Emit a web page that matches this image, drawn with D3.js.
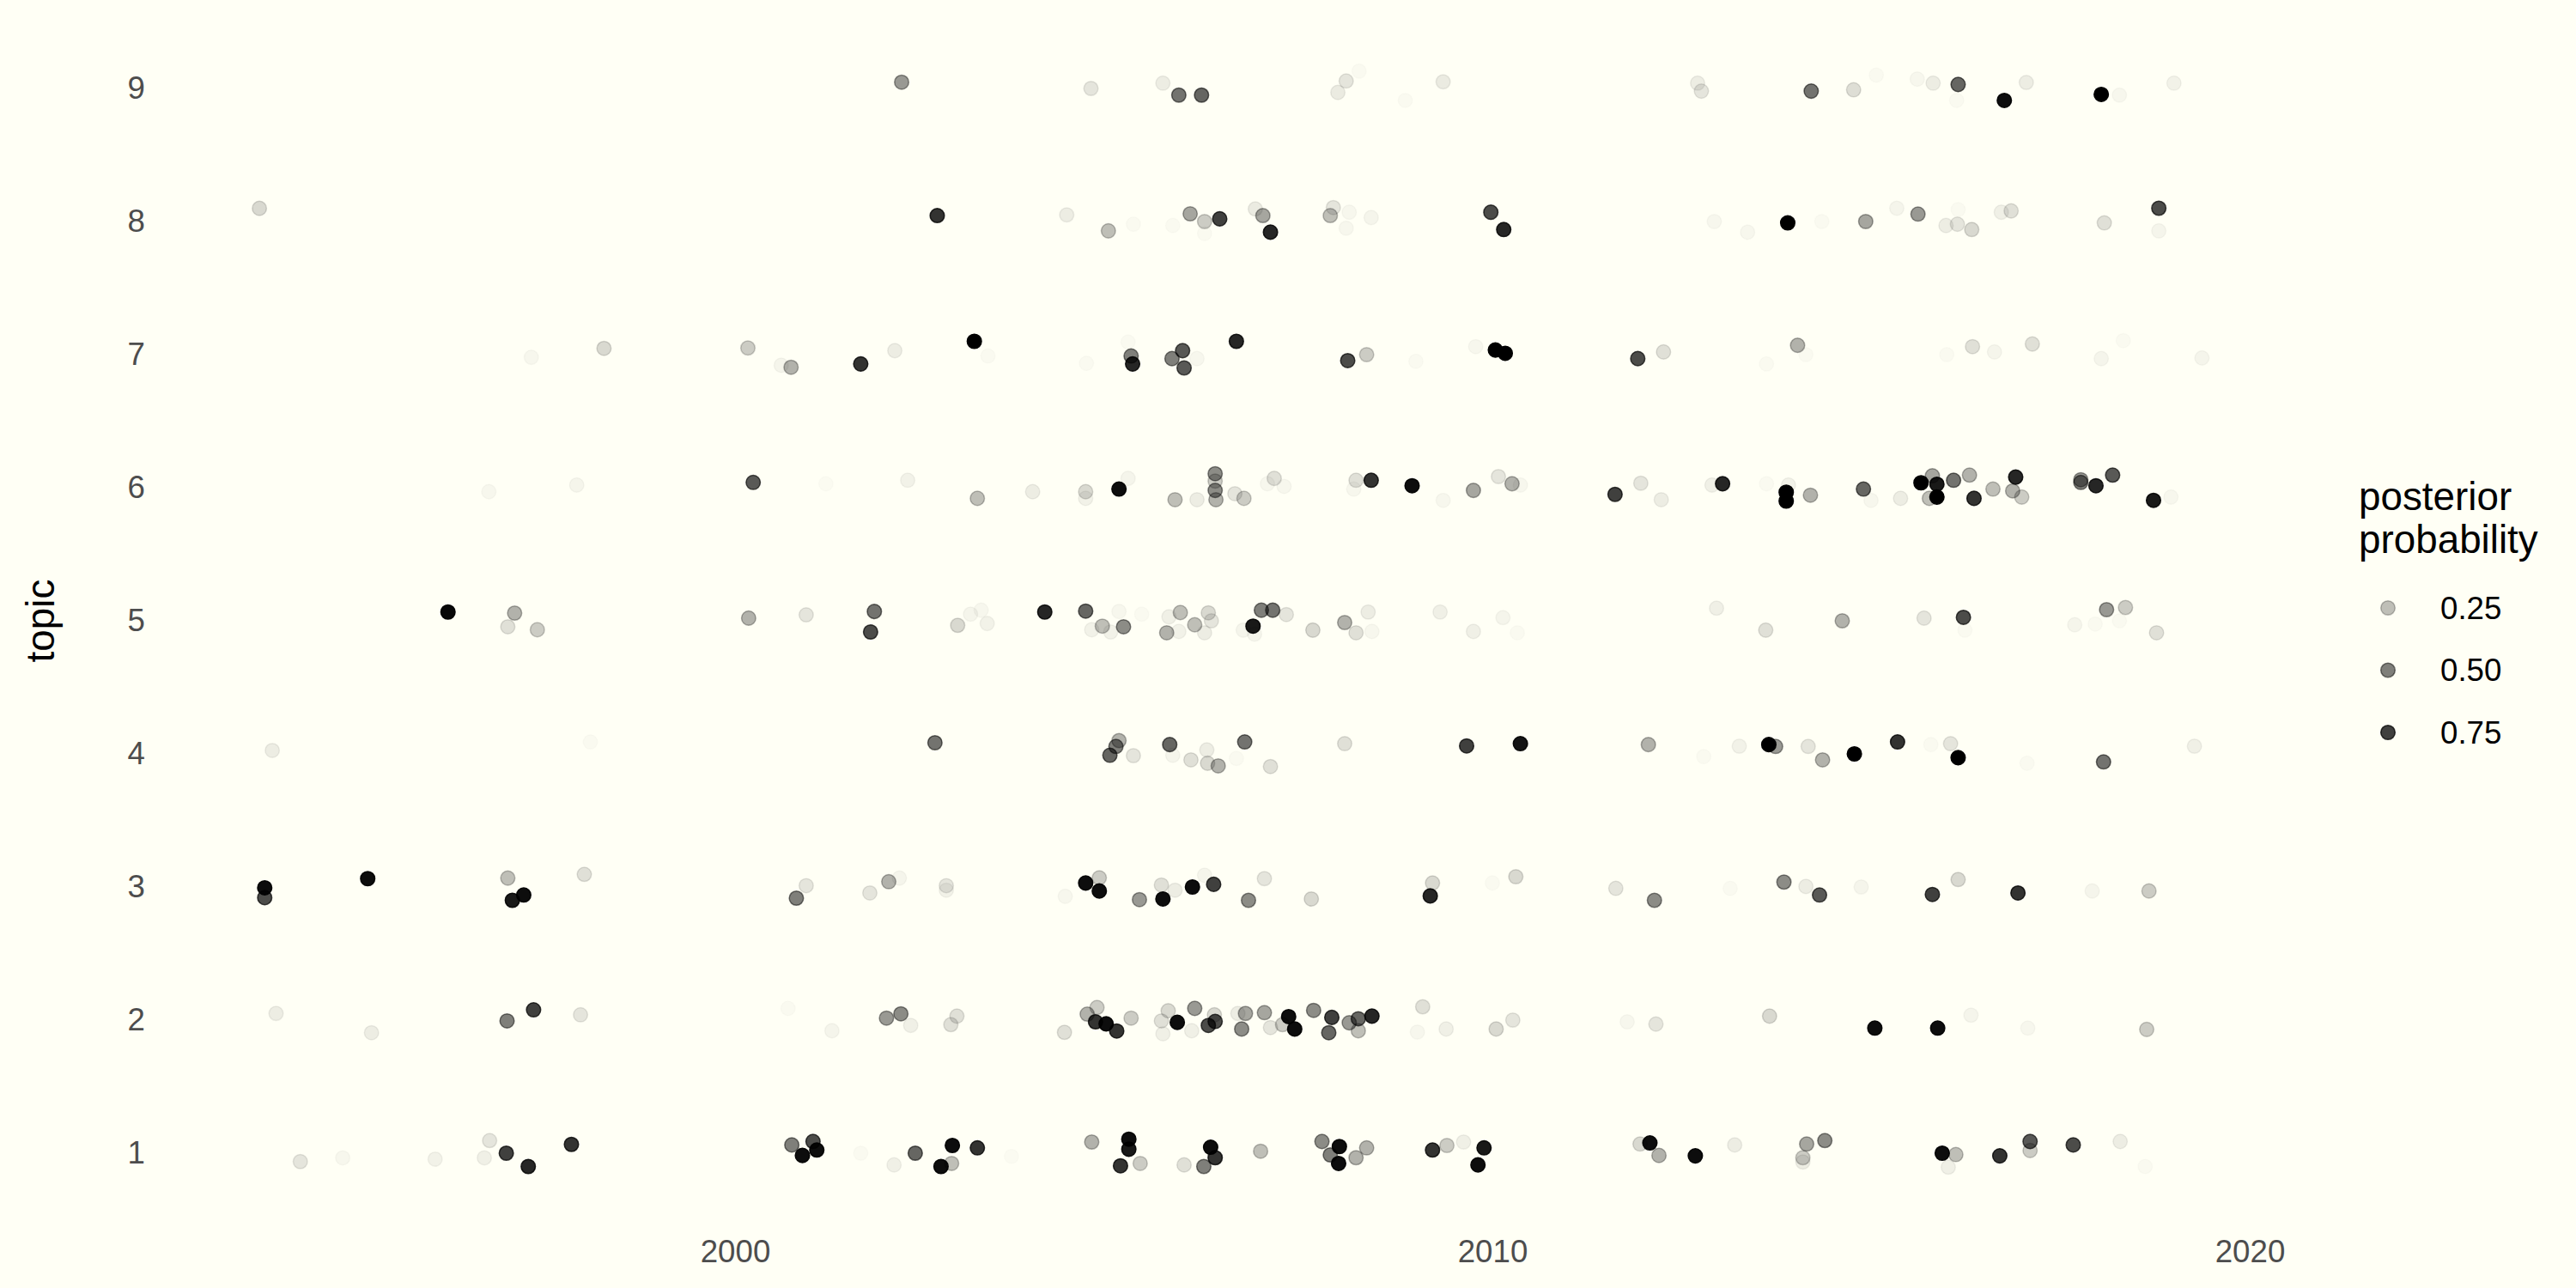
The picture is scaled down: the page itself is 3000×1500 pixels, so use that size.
<!DOCTYPE html>
<html>
<head>
<meta charset="utf-8">
<script src="https://cdn.jsdelivr.net/npm/d3@7"></script>
<style>
    body { margin: 0; background: #fffff5; }
    text { font-family: "Liberation Sans", Arial, sans-serif; }
</style>
</head>
<body>
<svg id="plot-svg"></svg>
<script>
// каждая точка: [год, тема (с разбросом), апостериорная вероятность]
const topic9 = [
    [2002.20, 9.047, 0.4], [2004.70, 9.00, 0.1], [2005.65, 9.04, 0.07], [2005.86, 8.95, 0.55],
    [2006.16, 8.95, 0.6], [2008.07, 9.056, 0.1], [2007.96, 8.97, 0.08], [2008.24, 9.13, 0.02],
    [2008.85, 8.91, 0.02], [2009.35, 9.05, 0.08], [2012.71, 9.04, 0.07], [2012.76, 8.98, 0.1],
    [2014.21, 8.98, 0.55], [2014.77, 8.99, 0.13], [2015.07, 9.10, 0.02], [2015.61, 9.07, 0.03],
    [2015.82, 9.04, 0.07], [2016.15, 9.03, 0.6], [2016.13, 8.91, 0.02], [2016.76, 8.91, 0.95],
    [2017.05, 9.045, 0.07], [2018.04, 8.955, 1.0], [2018.28, 8.95, 0.03], [2019.0, 9.04, 0.05]
];
const topic8 = [
    [1993.72, 8.099, 0.15], [2002.67, 8.045, 0.8], [2004.38, 8.05, 0.07], [2004.93, 7.93, 0.25],
    [2005.26, 7.98, 0.02], [2005.78, 7.97, 0.02], [2006.01, 8.058, 0.35], [2006.20, 8.0, 0.2],
    [2006.20, 7.91, 0.02], [2006.40, 8.02, 0.75], [2006.87, 8.095, 0.08], [2006.97, 8.045, 0.35],
    [2007.07, 7.92, 0.85], [2007.90, 8.105, 0.1], [2007.86, 8.045, 0.25], [2008.11, 8.07, 0.03],
    [2008.40, 8.03, 0.04], [2008.07, 7.95, 0.03], [2009.98, 8.07, 0.7], [2010.15, 7.94, 0.85],
    [2012.93, 8.0, 0.03], [2013.37, 7.92, 0.03], [2013.90, 7.99, 1.0], [2014.35, 8.0, 0.02],
    [2014.93, 8.0, 0.35], [2015.34, 8.10, 0.04], [2015.62, 8.056, 0.4], [2015.99, 7.97, 0.07],
    [2016.14, 7.98, 0.1], [2016.33, 7.94, 0.15], [2016.15, 8.09, 0.02], [2016.72, 8.07, 0.06],
    [2016.85, 8.08, 0.12], [2018.08, 7.99, 0.12], [2018.80, 8.10, 0.7], [2018.80, 7.93, 0.04]
];
const topic7 = [
    [1997.31, 6.98, 0.03], [1998.27, 7.047, 0.15], [2000.17, 7.05, 0.2], [2000.61, 6.92, 0.04],
    [2000.74, 6.905, 0.3], [2001.66, 6.93, 0.8], [2002.11, 7.03, 0.07], [2003.16, 7.10, 1.0],
    [2003.34, 6.99, 0.02], [2005.19, 7.095, 0.02], [2004.64, 6.935, 0.02], [2005.23, 6.99, 0.5],
    [2005.25, 6.93, 0.85], [2005.77, 6.97, 0.5], [2005.91, 7.03, 0.65], [2005.93, 6.90, 0.65],
    [2006.10, 6.97, 0.03], [2006.62, 7.10, 0.85], [2008.09, 6.955, 0.7], [2008.34, 7.0, 0.2],
    [2008.99, 6.95, 0.02], [2009.78, 7.06, 0.03], [2010.04, 7.035, 1.0], [2010.17, 7.01, 1.0],
    [2011.92, 6.97, 0.7], [2012.26, 7.02, 0.12], [2013.62, 6.93, 0.02], [2014.03, 7.07, 0.3],
    [2014.14, 7.0, 0.02], [2016.0, 7.0, 0.02], [2016.34, 7.06, 0.12], [2016.63, 7.02, 0.04],
    [2017.13, 7.08, 0.12], [2018.04, 6.97, 0.04], [2018.33, 7.105, 0.02], [2019.37, 6.975, 0.04]
];
const topic6 = [
    [1996.75, 5.97, 0.03], [1997.91, 6.02, 0.04], [2000.24, 6.04, 0.65], [2001.20, 6.03, 0.015],
    [2002.28, 6.056, 0.05], [2003.20, 5.92, 0.25], [2003.93, 5.97, 0.07], [2004.63, 5.97, 0.15],
    [2004.63, 5.92, 0.05], [2005.19, 6.07, 0.04], [2005.07, 5.99, 0.95], [2005.81, 5.91, 0.25],
    [2006.10, 5.91, 0.07], [2006.34, 6.105, 0.45], [2006.34, 6.05, 0.2], [2006.34, 5.98, 0.45],
    [2006.35, 5.91, 0.3], [2006.60, 5.955, 0.1], [2006.72, 5.92, 0.2], [2007.12, 6.07, 0.12],
    [2007.25, 6.01, 0.03], [2007.03, 6.03, 0.03], [2008.20, 6.056, 0.12], [2008.17, 5.99, 0.03],
    [2008.40, 6.056, 0.8], [2008.94, 6.015, 0.95], [2009.35, 5.905, 0.03], [2009.75, 5.98, 0.35],
    [2010.08, 6.084, 0.1], [2010.26, 6.03, 0.3], [2010.37, 6.02, 0.03], [2011.62, 5.95, 0.75],
    [2011.96, 6.034, 0.1], [2012.23, 5.91, 0.07], [2012.90, 6.02, 0.06], [2013.04, 6.03, 0.85],
    [2013.62, 6.03, 0.02], [2013.91, 6.02, 0.05], [2013.88, 5.966, 1.0], [2013.88, 5.90, 1.0],
    [2014.20, 5.944, 0.3], [2014.90, 5.99, 0.6], [2015.0, 5.905, 0.03], [2015.39, 5.92, 0.07],
    [2015.66, 6.037, 1.0], [2015.81, 6.09, 0.35], [2015.77, 5.92, 0.25], [2015.87, 6.026, 0.9],
    [2015.87, 5.93, 1.0], [2016.09, 6.056, 0.55], [2016.30, 6.095, 0.3], [2016.36, 5.92, 0.8],
    [2016.61, 5.99, 0.25], [2016.91, 6.08, 0.85], [2016.87, 5.976, 0.3], [2016.99, 5.93, 0.2],
    [2017.77, 6.04, 0.5], [2017.77, 6.06, 0.4], [2017.97, 6.015, 0.85], [2018.19, 6.095, 0.65],
    [2018.73, 5.905, 0.9], [2018.96, 5.93, 0.03]
];
const topic5 = [
    [1996.21, 5.066, 0.97], [1997.09, 5.058, 0.3], [1997.0, 4.955, 0.12], [1997.39, 4.933, 0.2],
    [2000.18, 5.02, 0.3], [2000.94, 5.045, 0.1], [2001.84, 5.07, 0.55], [2001.79, 4.916, 0.7],
    [2002.94, 4.966, 0.15], [2003.11, 5.05, 0.04], [2003.25, 5.08, 0.03], [2003.33, 4.98, 0.05],
    [2004.09, 5.066, 0.85], [2004.63, 5.073, 0.6], [2005.07, 5.07, 0.03], [2004.85, 4.96, 0.25],
    [2004.71, 4.933, 0.05], [2004.96, 4.916, 0.05], [2005.13, 4.955, 0.45], [2005.37, 5.05, 0.02],
    [2005.73, 5.03, 0.06], [2005.88, 5.062, 0.25], [2005.70, 4.91, 0.3], [2005.86, 4.92, 0.05],
    [2006.07, 4.97, 0.25], [2006.20, 4.91, 0.07], [2006.25, 5.06, 0.15], [2006.29, 5.0, 0.1],
    [2006.95, 5.08, 0.5], [2007.10, 5.08, 0.55], [2006.84, 4.96, 0.9], [2006.71, 4.93, 0.04],
    [2006.86, 4.90, 0.04], [2007.28, 5.047, 0.1], [2007.63, 4.93, 0.15], [2008.05, 4.987, 0.3],
    [2008.20, 4.91, 0.12], [2008.36, 5.066, 0.07], [2008.41, 4.92, 0.03], [2009.31, 5.066, 0.06],
    [2009.75, 4.92, 0.06], [2010.14, 5.024, 0.04], [2010.33, 4.91, 0.02], [2012.96, 5.095, 0.06],
    [2013.61, 4.93, 0.12], [2014.62, 5.0, 0.3], [2015.70, 5.02, 0.1], [2016.22, 5.026, 0.7],
    [2016.24, 4.93, 0.02], [2017.69, 4.97, 0.04], [2017.96, 4.976, 0.02], [2018.11, 5.084, 0.4],
    [2018.36, 5.1, 0.2], [2018.77, 4.91, 0.12], [2018.28, 5.0, 0.02]
];
const topic4 = [
    [1993.89, 4.026, 0.07], [1998.09, 4.09, 0.02], [2002.64, 4.084, 0.55], [2005.07, 4.1, 0.3],
    [2005.03, 4.056, 0.5], [2004.95, 3.99, 0.6], [2005.26, 3.987, 0.1], [2005.74, 4.07, 0.6],
    [2005.78, 3.99, 0.04], [2006.02, 3.955, 0.12], [2006.23, 4.03, 0.07], [2006.24, 3.93, 0.15],
    [2006.38, 3.91, 0.3], [2006.62, 3.966, 0.02], [2006.73, 4.09, 0.55], [2007.07, 3.905, 0.12],
    [2008.05, 4.077, 0.12], [2009.66, 4.06, 0.75], [2010.37, 4.077, 0.92], [2012.06, 4.07, 0.3],
    [2012.79, 3.98, 0.02], [2013.26, 4.058, 0.05], [2013.65, 4.07, 1.0], [2013.74, 4.056, 0.4],
    [2014.17, 4.056, 0.1], [2014.36, 3.955, 0.3], [2014.78, 4.0, 1.0], [2015.35, 4.09, 0.8],
    [2015.79, 4.07, 0.02], [2016.05, 4.077, 0.1], [2016.15, 3.972, 1.0], [2017.06, 3.93, 0.02],
    [2018.07, 3.94, 0.55], [2019.27, 4.058, 0.06]
];
const topic3 = [
    [1993.79, 2.994, 0.95], [1993.79, 2.92, 0.7], [1995.15, 3.063, 0.95], [1997.0, 3.067, 0.25],
    [1997.21, 2.94, 0.95], [1997.06, 2.90, 0.9], [1998.01, 3.095, 0.12], [2000.81, 2.916, 0.5],
    [2000.94, 3.01, 0.1], [2001.78, 2.955, 0.1], [2002.03, 3.04, 0.3], [2002.17, 3.067, 0.04],
    [2002.79, 3.01, 0.1], [2002.79, 2.976, 0.05], [2004.36, 2.93, 0.03], [2004.63, 3.03, 0.95],
    [2004.81, 3.069, 0.2], [2004.81, 2.97, 0.95], [2005.34, 2.905, 0.4], [2005.63, 3.015, 0.12],
    [2005.65, 2.91, 0.95], [2005.81, 2.976, 0.07], [2006.04, 3.0, 0.95], [2006.20, 3.088, 0.04],
    [2006.32, 3.02, 0.75], [2006.99, 3.063, 0.1], [2006.78, 2.90, 0.45], [2007.61, 2.91, 0.15],
    [2009.21, 3.03, 0.15], [2009.18, 2.933, 0.85], [2010.0, 3.03, 0.02], [2010.31, 3.077, 0.15],
    [2011.63, 2.99, 0.1], [2012.14, 2.90, 0.45], [2013.14, 2.99, 0.02], [2013.85, 3.037, 0.45],
    [2014.14, 3.004, 0.07], [2014.32, 2.94, 0.65], [2014.87, 3.0, 0.04], [2015.81, 2.944, 0.75],
    [2016.15, 3.056, 0.15], [2016.94, 2.955, 0.8], [2017.92, 2.97, 0.04], [2018.67, 2.97, 0.2]
];
const topic2 = [
    [1993.94, 2.05, 0.07], [1995.20, 1.905, 0.07], [1997.34, 2.077, 0.75], [1996.99, 1.994, 0.5],
    [1997.96, 2.04, 0.1], [2000.70, 2.088, 0.02], [2001.28, 1.92, 0.04], [2002.0, 2.015, 0.4],
    [2002.19, 2.047, 0.45], [2002.32, 1.96, 0.06], [2002.93, 2.03, 0.12], [2002.85, 1.966, 0.12],
    [2004.35, 1.908, 0.12], [2004.65, 2.045, 0.3], [2004.78, 2.095, 0.2], [2004.76, 1.987, 0.8],
    [2004.90, 1.972, 0.95], [2005.04, 1.918, 0.8], [2005.23, 2.015, 0.2], [2005.63, 1.994, 0.12],
    [2005.65, 1.897, 0.06], [2005.72, 2.07, 0.15], [2005.84, 1.983, 0.95], [2006.03, 1.92, 0.06],
    [2006.07, 2.088, 0.4], [2006.25, 1.96, 0.7], [2006.34, 1.99, 0.7], [2006.33, 2.04, 0.15],
    [2006.64, 2.05, 0.07], [2006.74, 2.05, 0.35], [2006.69, 1.933, 0.45], [2006.99, 2.056, 0.35],
    [2007.07, 1.944, 0.1], [2007.23, 1.966, 0.2], [2007.31, 2.026, 0.95], [2007.39, 1.933, 0.95],
    [2007.64, 2.073, 0.45], [2007.88, 2.02, 0.75], [2007.84, 1.905, 0.6], [2008.11, 1.98, 0.4],
    [2008.23, 2.01, 0.6], [2008.23, 1.92, 0.25], [2008.41, 2.03, 0.85], [2009.08, 2.1, 0.12],
    [2009.01, 1.91, 0.03], [2009.39, 1.933, 0.06], [2010.05, 1.933, 0.15], [2010.27, 2.0, 0.1],
    [2011.78, 1.987, 0.03], [2012.16, 1.97, 0.1], [2013.66, 2.03, 0.15], [2015.05, 1.94, 0.95],
    [2015.88, 1.94, 0.95], [2016.32, 2.037, 0.04], [2017.07, 1.94, 0.03], [2018.64, 1.93, 0.2]
];
const topic1 = [
    [1994.26, 0.937, 0.1], [1994.82, 0.965, 0.03], [1996.04, 0.955, 0.05], [1996.76, 1.095, 0.1],
    [1996.69, 0.965, 0.06], [1996.98, 1.0, 0.75], [1997.27, 0.90, 0.85], [1997.84, 1.066, 0.8],
    [2000.75, 1.062, 0.5], [2001.03, 1.088, 0.7], [2000.89, 0.983, 0.95], [2001.08, 1.024, 0.95],
    [2001.66, 1.0, 0.02], [2002.10, 0.912, 0.06], [2002.38, 1.0, 0.6], [2002.87, 1.058, 0.95],
    [2002.86, 0.923, 0.25], [2002.72, 0.90, 0.95], [2003.20, 1.04, 0.8], [2003.65, 0.976, 0.015],
    [2004.71, 1.084, 0.3], [2005.20, 1.105, 0.95], [2005.20, 1.03, 0.9], [2005.09, 0.905, 0.8],
    [2005.35, 0.923, 0.2], [2005.93, 0.912, 0.12], [2006.19, 0.90, 0.5], [2006.28, 1.045, 0.95],
    [2006.34, 0.966, 0.8], [2006.94, 1.015, 0.25], [2007.75, 1.088, 0.45], [2007.86, 0.987, 0.5],
    [2007.98, 1.05, 0.95], [2007.97, 0.923, 0.95], [2008.20, 0.966, 0.3], [2008.34, 1.04, 0.3],
    [2009.21, 1.024, 0.8], [2009.40, 1.058, 0.2], [2009.62, 1.084, 0.06], [2009.89, 1.04, 0.9],
    [2009.81, 0.912, 0.95], [2011.95, 1.069, 0.15], [2012.08, 1.077, 0.95], [2012.20, 0.983, 0.3],
    [2012.68, 0.98, 0.95], [2013.20, 1.062, 0.07], [2014.15, 1.069, 0.35], [2014.10, 0.966, 0.2],
    [2014.10, 0.934, 0.07], [2014.39, 1.095, 0.45], [2015.94, 1.0, 0.95], [2016.12, 0.99, 0.25],
    [2016.02, 0.895, 0.06], [2016.70, 0.98, 0.8], [2017.10, 1.088, 0.65], [2017.10, 1.02, 0.2],
    [2017.67, 1.062, 0.7], [2018.29, 1.088, 0.07], [2018.62, 0.90, 0.02]
];

const topicTicks = [1, 2, 3, 4, 5, 6, 7, 8, 9];
const yearTicks = [2000, 2010, 2020];
const legendBreaks = [0.25, 0.50, 0.75];

const points = [topic1, topic2, topic3, topic4, topic5, topic6, topic7, topic8, topic9]
    .flat()
    .map(d => ({year: d[0], topic: d[1], p: d[2]}));

const width = 3000, height = 1500;
const radius = 8.3;

const svg = d3.select("#plot-svg")
    .attr("width", width)
    .attr("height", height);

svg.append("rect")
    .attr("width", width)
    .attr("height", height)
    .attr("fill", "#fffff5");

// шкалы
const xScale = d3.scaleLinear()
    .domain([2000, 2020])
    .range([856, 2620]);
const yScale = d3.scaleLinear()
    .domain([1, 9])
    .range([1343, 103]);
const alpha = d3.scaleLinear()
    .domain([0, 1])
    .range([0, 1])
    .clamp(true);

// ось X
svg.append("g")
    .attr("transform", "translate(0,1400)")
    .call(d3.axisBottom(xScale).tickValues(yearTicks).tickFormat(d3.format("d")).tickSize(0).tickPadding(44));
// ось Y
svg.append("g")
    .attr("transform", "translate(190,0)")
    .call(d3.axisLeft(yScale).tickValues(topicTicks).tickFormat(d3.format("d")).tickSize(0).tickPadding(21));

svg.selectAll(".domain").remove();
svg.selectAll(".tick text")
    .attr("fill", "#4d4d4d")
    .style("font-size", "36.7px")
    .style("font-family", "'Liberation Sans', Arial, sans-serif");

// название Y
svg.append("text")
    .attr("text-anchor", "middle")
    .attr("transform", `translate(63, ${(yScale(1) + yScale(9)) / 2}) rotate(-90)`)
    .style("font-size", "45.8px")
    .attr("fill", "#000")
    .text("topic");

// точки
svg.append("g")
    .attr("id", "points")
    .selectAll("circle")
    .data(points)
    .enter()
    .append("circle")
    .attr("cx", d => xScale(d.year))
    .attr("cy", d => yScale(d.topic))
    .attr("r", radius)
    .attr("fill", "#000")
    .attr("fill-opacity", d => alpha(d.p))
    .attr("stroke", "#000")
    .attr("stroke-opacity", d => alpha(d.p))
    .attr("stroke-width", 1.5);

// легенда
const legend = svg.append("g").attr("transform", "translate(2747,0)");
legend.selectAll("text.title")
    .data(["posterior", "probability"])
    .enter()
    .append("text")
    .attr("class", "title")
    .attr("x", 0)
    .attr("y", (d, i) => 594 + i * 50)
    .style("font-size", "45.8px")
    .attr("fill", "#000")
    .text(d => d);

const keys = legend.selectAll("g.key")
    .data(legendBreaks)
    .enter()
    .append("g")
    .attr("class", "key")
    .attr("transform", (d, i) => `translate(0, ${708 + i * 72.5})`);
keys.append("circle")
    .attr("cx", 34)
    .attr("cy", 0)
    .attr("r", radius)
    .attr("fill", "#000")
    .attr("fill-opacity", d => alpha(d))
    .attr("stroke", "#000")
    .attr("stroke-opacity", d => alpha(d))
    .attr("stroke-width", 1.5);
keys.append("text")
    .attr("x", 95)
    .attr("y", 0)
    .attr("dy", "0.35em")
    .style("font-size", "36.7px")
    .attr("fill", "#000")
    .text(d => d3.format(".2f")(d));
</script>
</body>
</html>
